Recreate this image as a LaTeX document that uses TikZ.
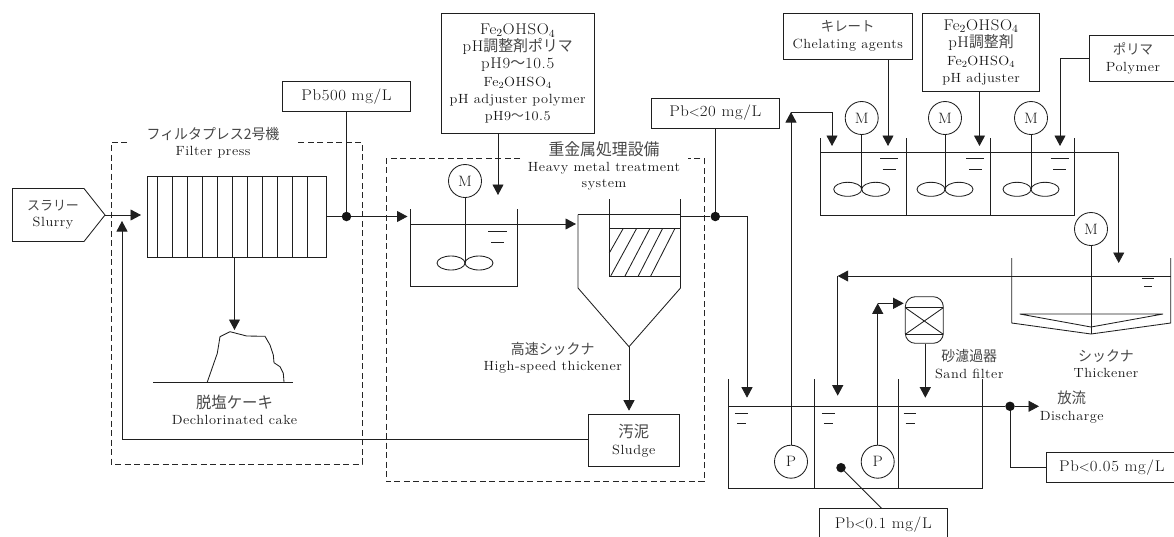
\documentclass[tikz,border=0pt]{standalone}
\usepackage{fontspec}
\setmainfont{Latin Modern Roman}[LetterSpace=4,FakeStretch=1.08]
\newfontfamily\cjk{Noto Sans CJK JP}
\usetikzlibrary{arrows.meta,calc}
\newcommand{\jp}[1]{{\cjk\addfontfeature{FakeStretch=0.96}\color{black!72}#1}}
\newcommand{\jps}[2]{{\cjk\addfontfeature{FakeStretch=0.96}\color{black!72}\fontsize{#1}{16}\selectfont #2}}
\newcommand{\feso}{Fe\textsubscript{2}OHSO\textsubscript{4}}
\newcommand{\sm}{\fontsize{13.3}{17}\selectfont}
\newcommand{\agitator}[4]{%
  \node[motor] (#1) at (#2,#3) {M};
  \draw[ln] (#1.south) -- (#2,#4);
  \draw[ln] ({#2-14},#4) ellipse [x radius=14pt,y radius=7pt];
  \draw[ln] ({#2+14},#4) ellipse [x radius=14pt,y radius=7pt];
}
\newcommand{\lvl}[5]{%
  \draw[ln] ({#1-#3/2},#2) -- ({#1+#3/2},#2);
  \draw[ln] ({#1-#4/2},{#2+#5}) -- ({#1+#4/2},{#2+#5});
}
\tikzset{
  x=1pt,y=-1pt,
  ln/.style={draw=black!88,line width=0.85pt},
  arw/.style={ln,-{Triangle[length=10.5pt,width=11pt]}},
  dashbox/.style={draw=black!85,line width=0.8pt,dash pattern=on 6pt off 3.5pt},
  motor/.style={circle,draw=black!88,line width=0.85pt,minimum size=33pt,inner sep=0pt,font=\fontsize{15}{16}\selectfont,text=black!90},
  tagbox/.style={draw=black!88,line width=0.85pt,inner sep=0pt,align=center,text=black!92,font=\fontsize{15.5}{17}\selectfont},
  lbl/.style={inner sep=0pt,align=center,text=black!92,font=\fontsize{13.3}{16.3}\selectfont},
  dot/.style={circle,fill=black!92,inner sep=0pt,minimum size=9.5pt},
}
\begin{document}
\begin{tikzpicture}
\useasboundingbox (0,0) rectangle (1174,536);
% ---------- filter press section
\draw[dashbox] (127,142) -- (111,142) -- (111,464) -- (362,464) -- (362,142) -- (297,142);
\node[lbl] (fplabel) at (213,142.5) {\jps{14.5}{フィルタプレス2号機}\\Filter press};
\draw[ln] (12.5,188.5) -- (84,188.5) -- (105,215) -- (84,241.5) -- (12.5,241.5) -- cycle;
\node[lbl] (slurry) at (53,214.5) {\jps{13.5}{スラリー}\\Slurry};
\coordinate (slurrytip) at (105,215);
\coordinate (pressin) at (141,215);
\draw[arw] (slurrytip) -- (pressin);
\node[draw=black!88,line width=0.85pt,minimum width=179pt,minimum height=81pt,inner sep=0pt] (press) at (236.5,216.5) {};
\foreach \px in {157,172.3,187.3,202.3,217.3,232.3,247.3,262.3,277.3,292.3,307.3}
  \draw[ln] (\px,176) -- (\px,257);
\coordinate (caketop) at (234.5,330);
\draw[arw] (press.south -| caketop) -- (caketop);
\coordinate (groundL) at (153.3,382);
\coordinate (groundR) at (292.7,382);
\draw[ln] (groundL) -- (groundR);
\draw[ln] (207.3,382) -- (217.3,353.3) -- (220,336.7) -- (230,331.7) -- (246.7,336) -- (265,336.3) -- (270,345) -- (273.3,355) -- (274,362.7) -- (280,366.7) -- (283.3,373.3) -- (284,382);
\node[lbl] (cake) at (234.5,409.5) {\jps{16}{脱塩ケーキ}\\Dechlorinated cake};
\node[tagbox,minimum width=128.5pt,minimum height=30.5pt] (pb500) at (346.5,96.5) {Pb500 mg/L};
\node[dot] (d500) at (346.5,216.5) {};
\draw[ln] (pb500.south -| d500) -- (d500);
\draw[ln] (press.east |- d500) -- (d500);
\coordinate (tank1in) at (407.5,216.5);
\draw[arw] (d500) -- (tank1in);
% ---------- heavy metal section
\draw[dashbox] (520,158.5) -- (386,158.5) -- (386,481.7) -- (704,481.7) -- (704,158.5) -- (688,158.5);
\node[lbl] (hmlabel) at (604,166) {\jps{16.5}{重金属処理設備}\\Heavy metal treatment\\system};
\node[tagbox,minimum width=153.5pt,minimum height=120pt] (dose1) at (517.7,73.5)
 {\feso\\pH\jp{調整剤ポリマ}\\pH9\jp{～}10.5\\[1pt]\sm\feso\\\sm pH adjuster polymer\\\sm pH9\jp{～}10.5};
\coordinate (dose1end) at (498,195);
\draw[arw] (dose1.south -| dose1end) -- (dose1end);
\agitator{m1}{465}{181}{263}
\draw[ln] (410.5,209) -- (410.5,286) -- (517.5,286) -- (517.5,209);
\coordinate (lvl1) at (410.5,224);
\coordinate (thin) at (576,224);
\draw[arw] (lvl1) -- (thin);
\lvl{497.5}{231}{19}{13}{11}
% high-speed thickener
\draw[ln] (578,214.5) -- (680.5,214.5);
\draw[ln] (578,214.5) -- (578,288) -- (629,346.7) -- (680.5,288) -- (680.5,199);
\draw[ln] (609,199) -- (609,276) -- (680.5,276);
\draw[ln] (609,228) -- (680.5,228);
\draw[ln] (609.3,253) -- (623.3,228.3);
\draw[ln] (610.7,276) -- (636.7,228.3);
\draw[ln] (625,276) -- (650,228.3);
\draw[ln] (638.3,276) -- (662.7,228.3);
\draw[ln] (650.7,276) -- (675,228.3);
\coordinate (thcone) at (629,346.7);
\node[lbl] (hstlabel) at (552.7,357.5) {\jps{14.5}{高速シックナ}\\High-speed thickener};
\node[tagbox,minimum width=91pt,minimum height=52.4pt] (sludge) at (633.8,440.5) {\jps{16}{汚泥}\\\fontsize{13.3}{16}\selectfont Sludge};
\coordinate (sludgein) at (629,410.7);
\draw[arw] (thcone) -- (sludgein);
\coordinate (ret) at (122,221);
\draw[arw] (sludge.west |- 0,439.5) -- (ret |- 0,439.5) -- (ret);
% ---------- effluent to bottom tank
\node[tagbox,minimum width=128.5pt,minimum height=30pt] (pb20) at (715.3,113) {Pb$<$20 mg/L};
\node[dot] (d20) at (715.3,216.5) {};
\draw[ln] (pb20.south -| d20) -- (d20);
\draw[ln] (680.5,216.5) -- (d20);
\coordinate (bt1in) at (747,397.7);
\draw[arw] (d20) -| (bt1in);
% ---------- top mixing tanks
\node[tagbox,minimum width=128.5pt,minimum height=45.5pt] (chel) at (847.7,36.3) {\jps{14}{キレート}\\\fontsize{13.3}{16}\selectfont Chelating agents};
\node[tagbox,minimum width=117pt,minimum height=78pt] (dose2) at (981,52.5) {\feso\\pH\jp{調整剤}\\[1pt]\sm\feso\\\sm pH adjuster};
\node[tagbox,minimum width=87.6pt,minimum height=46.5pt] (poly) at (1133,58.3) {\jps{14}{ポリマ}\\\fontsize{13.3}{17}\selectfont Polymer};
\coordinate (c1) at (888,146);
\coordinate (c2) at (979.5,146);
\coordinate (c3) at (1060,146);
\draw[arw] (chel.south -| c1) -- (c1);
\draw[arw] (dose2.south -| c2) -- (c2);
\draw[arw] (poly.west) -| (c3);
\draw[ln] (820.3,138) -- (820.3,215) -- (1074.3,215) -- (1074.3,138);
\draw[ln] (906,138) -- (906,215);
\draw[ln] (990,138) -- (990,215);
\agitator{m2}{861.7}{118}{189.3}
\agitator{m3}{945}{118}{189.3}
\agitator{m4}{1031}{118}{189.3}
\lvl{889}{158.7}{18}{13}{10.6}
\lvl{975.3}{158.7}{18}{13}{10.6}
\lvl{1059.7}{158.7}{18}{13}{10.6}
\coordinate (lvl2) at (820.3,152.7);
\coordinate (thick2in) at (1118.7,263);
\draw[arw] (lvl2) -- (1118.7,152.7) -- (thick2in);
% ---------- thickener
\node[motor] (m5) at (1091,229) {M};
\coordinate (thkbot) at (1091,334);
\draw[ln] (m5.south) -- (thkbot);
\draw[ln] (1011.7,258) -- (1011.7,323) -- (thkbot) -- (1170.7,323) -- (1170.7,258);
\draw[ln] (1019.7,314) -- (1163,314) -- (1091,327) -- cycle;
\coordinate (thkout) at (1170.7,276);
\coordinate (retcorner) at (837.7,276);
\coordinate (bt2in) at (837.7,395.7);
\draw[arw] (thkout) -- (retcorner);
\draw[arw] (retcorner) -- (bt2in);
\lvl{1148}{278.7}{12.3}{8}{8}
\node[lbl] (thlabel) at (1106,364) {\jps{14.5}{シックナ}\\Thickener};
% ---------- bottom tanks
\draw[ln] (728.7,379) -- (728.7,488.7) -- (982.7,488.7) -- (982.7,379);
\draw[ln] (814,379) -- (814,488.7);
\draw[ln] (898,379) -- (898,488.7);
\lvl{741.3}{413.3}{12.7}{9}{9.7}
\lvl{828.3}{413.3}{12.7}{9}{9.7}
\lvl{910}{413.3}{12.7}{9}{9.7}
\node[motor] (p1) at (791,461.7) {P};
\node[motor] (p2) at (877.7,461.7) {P};
\coordinate (p1top) at (791,112);
\coordinate (c0) at (832,146);
\draw[arw] (p1.north) -- (p1top);
\draw[arw] (p1top) -| (c0);
% sand filter
\node[draw=black!88,line width=0.85pt,rounded corners=10pt,minimum width=38pt,minimum height=46.6pt,inner sep=0pt] (sand) at (924.3,320) {};
\draw[ln] (905.3,307.7) -- (943.3,307.7);
\draw[ln] (905.3,334.3) -- (943.3,334.3);
\draw[ln] (905.3,307.7) -- (943.3,334.3);
\draw[ln] (905.3,334.3) -- (943.3,307.7);
\coordinate (p2top) at (877.7,303.3);
\coordinate (sandin) at (903.7,303.3);
\draw[arw] (p2.north) -- (p2top);
\draw[arw] (p2top) -- (sandin);
\coordinate (bt3in) at (925.3,397.7);
\draw[arw] (sand.south -| bt3in) -- (bt3in);
\node[lbl] (sandlabel) at (969.3,364) {\jps{14.5}{砂濾過器}\\Sand filter};
% discharge
\node[dot] (d005) at (1010,406.3) {};
\coordinate (lvl3) at (728.7,406.3);
\draw[ln] (lvl3) -- (d005);
\coordinate (disch) at (1039,406.3);
\draw[arw] (d005) -- (disch);
\node[lbl] (disclabel) at (1071.7,407) {\jps{15}{放流}\\Discharge};
\node[tagbox,minimum width=130.3pt,minimum height=30.7pt] (pb005) at (1111.8,467.3) {Pb$<$0.05 mg/L};
\draw[ln] (d005) |- (pb005.west);
\node[tagbox,minimum width=128.3pt,minimum height=31.7pt] (pb01) at (883.2,524.2) {Pb$<$0.1 mg/L};
\node[dot] (d01) at (841,467.7) {};
\draw[ln] (d01) -- (881.7,508.4);
\end{tikzpicture}
\end{document}
